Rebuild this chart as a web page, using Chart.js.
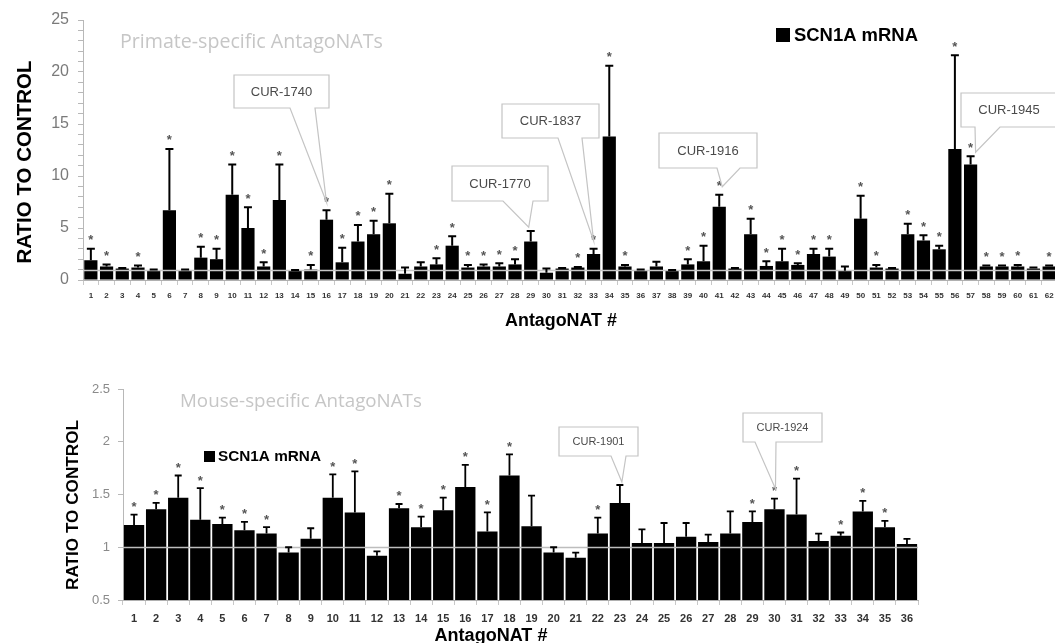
<!DOCTYPE html>
<html><head><meta charset="utf-8">
<script src="https://cdn.jsdelivr.net/npm/chart.js@4"></script>
<style>
html,body{margin:0;padding:0;background:#fff;overflow:hidden;width:1055px;height:643px;}
canvas{position:absolute;left:0;}
#c1{top:0}
#c2{top:335px}
</style></head><body>
<canvas id="c1" width="1057" height="335"></canvas>
<canvas id="c2" width="1055" height="308"></canvas>
<script>
// ---------- DATA: primate-specific ----------
const primateLabels = ['1','2','3','4','5','6','7','8','9','10','11','12','13','14','15','16','17','18','19','20','21','22','23','24','25','26','27','28','29','30','31','32','33','34','35','36','37','38','39','40','41','42','43','44','45','46','47','48','49','50','51','52','53','54','55','56','57','58','59','60','61','62'];
const primateValues = [1.9,1.3,1.1,1.2,0.95,6.7,0.95,2.15,2.0,8.2,5.0,1.3,7.7,0.9,1.0,5.8,1.7,3.7,4.4,5.45,0.6,1.3,1.5,3.3,1.2,1.3,1.3,1.5,3.7,0.7,1.1,1.2,2.5,13.8,1.3,0.95,1.3,0.9,1.5,1.8,7.05,1.1,4.4,1.35,1.8,1.45,2.5,2.25,0.9,5.9,1.2,1.1,4.4,3.8,2.95,12.6,11.1,1.3,1.3,1.3,1.1,1.3];
const primateSD = [1.1,0.2,0.05,0.2,0.05,5.9,0.05,1.05,1.0,2.9,2.0,0.4,3.4,0.05,0.45,0.9,1.4,1.6,1.3,2.85,0.6,0.4,0.6,0.9,0.25,0.2,0.3,0.5,1.0,0.4,0.05,0.05,0.5,6.8,0.15,0.05,0.45,0.05,0.5,1.5,1.15,0.05,1.5,0.45,1.2,0.15,0.5,0.75,0.4,2.2,0.25,0.05,1.0,0.5,0.35,9.0,0.8,0.1,0.1,0.15,0.1,0.1];
const primateStars = [1,1,0,1,0,1,0,1,1,1,1,1,1,0,1,1,1,1,1,1,0,0,1,1,1,1,1,1,0,0,0,1,1,1,1,0,0,0,1,1,1,0,1,1,1,1,1,1,0,1,1,0,1,1,1,1,1,1,1,1,0,1];
const primateYTicks = [0,5,10,15,20,25];

// ---------- DATA: mouse-specific ----------
const mouseLabels = ['1','2','3','4','5','6','7','8','9','10','11','12','13','14','15','16','17','18','19','20','21','22','23','24','25','26','27','28','29','30','31','32','33','34','35','36'];
const mouseValues = [1.21,1.36,1.47,1.26,1.22,1.16,1.13,0.95,1.08,1.47,1.33,0.92,1.37,1.19,1.35,1.57,1.15,1.68,1.20,0.95,0.90,1.13,1.42,1.04,1.04,1.10,1.05,1.13,1.24,1.36,1.31,1.06,1.11,1.34,1.19,1.03];
const mouseSD = [0.10,0.06,0.21,0.30,0.06,0.08,0.06,0.05,0.10,0.22,0.39,0.04,0.04,0.10,0.12,0.21,0.18,0.20,0.29,0.05,0.05,0.15,0.17,0.13,0.19,0.13,0.07,0.21,0.10,0.10,0.34,0.07,0.03,0.10,0.06,0.05];
const mouseStars = [1,1,1,1,1,1,1,0,0,1,1,0,1,1,1,1,1,1,0,0,0,1,0,0,0,0,0,0,1,1,1,0,1,1,1,0];
const mouseYTicks = [0.5,1,1.5,2,2.5];

const seriesName = 'SCN1A mRNA';

// ---------- annotations (page-pixel layout) ----------
const primateCallouts = [
  {text:'CUR-1740', idx:15, box:[234,75,95,33], base:[290,315], dx:0, dy:8},
  {text:'CUR-1770', idx:28, box:[452,166,96,35], base:[503,533], dx:-2, dy:4},
  {text:'CUR-1837', idx:32, box:[502,104,97,34], base:[558,582], dx:0, dy:8},
  {text:'CUR-1916', idx:40, box:[659,133,98,35], base:[717,740], dx:3, dy:8},
  {text:'CUR-1945', idx:56, box:[961,93,96,34], base:[975,1000], dx:5, dy:4}
];
const mouseCallouts = [
  {text:'CUR-1901', idx:22, box:[559,427,79,29], base:[611,626], dx:2, dy:3},
  {text:'CUR-1924', idx:29, box:[743,413,79,29], base:[755,776], dx:1, dy:10}
];

function fitText(ctx, text, x, y, width, weight, family, color, align) {
  ctx.save();
  ctx.font = weight + ' 20px ' + family;
  const w = ctx.measureText(text).width;
  const size = 20 * width / w;
  ctx.font = weight + ' ' + size.toFixed(2) + 'px ' + family;
  ctx.fillStyle = color;
  ctx.textBaseline = 'middle';
  ctx.textAlign = align || 'left';
  ctx.fillText(text, x, y);
  ctx.restore();
}

function makePlugin(o) {
  return {
    id: 'extras',
    afterDatasetsDraw(chart) {
      const ctx = chart.ctx, ys = chart.scales.y, ca = chart.chartArea;
      const meta = chart.getDatasetMeta(0);
      const oy = o.offsetY;
      // reference line at 1
      ctx.save();
      ctx.strokeStyle = o.refColor; ctx.lineWidth = o.refWidth;
      const y1 = Math.round(ys.getPixelForValue(1)) + 0.5;
      ctx.beginPath(); ctx.moveTo(ca.left, y1); ctx.lineTo(ca.right, y1); ctx.stroke();
      // error bars
      ctx.strokeStyle = '#000'; ctx.lineWidth = o.errWidth;
      meta.data.forEach((bar, i) => {
        const yt = ys.getPixelForValue(o.values[i] + o.sd[i]);
        ctx.beginPath();
        ctx.moveTo(bar.x, bar.y); ctx.lineTo(bar.x, yt);
        ctx.moveTo(bar.x - o.cap/2, yt); ctx.lineTo(bar.x + o.cap/2, yt);
        ctx.stroke();
        if (o.stars[i]) {
          ctx.fillStyle = '#555';
          ctx.font = 'bold ' + o.starSize + 'px "Liberation Sans"';
          ctx.textAlign = 'center'; ctx.textBaseline = 'alphabetic';
          ctx.fillText('*', bar.x, yt - o.starGap + o.starSize*0.57);
        }
      });
      // callouts
      o.callouts.forEach(c => {
        const bar = meta.data[c.idx];
        const tx = bar.x + c.dx;
        const ty = ys.getPixelForValue(o.values[c.idx] + o.sd[c.idx]) - c.dy;
        const [bx, byp, bw, bh] = c.box; const by = byp - oy;
        ctx.beginPath();
        ctx.moveTo(bx, by); ctx.lineTo(bx+bw, by); ctx.lineTo(bx+bw, by+bh);
        ctx.lineTo(c.base[1], by+bh); ctx.lineTo(tx, ty); ctx.lineTo(c.base[0], by+bh);
        ctx.lineTo(bx, by+bh); ctx.closePath();
        ctx.fillStyle = '#fff'; ctx.fill();
        ctx.strokeStyle = '#c4c4c4'; ctx.lineWidth = 1.2; ctx.stroke();
        ctx.fillStyle = '#4a4a4a';
        ctx.font = o.calloutFont;
        ctx.textAlign = 'center'; ctx.textBaseline = 'middle';
        ctx.fillText(c.text, bx + bw/2, by + bh/2 + 0.5);
      });
      ctx.restore();
      // texts
      fitText(ctx, o.title, o.titlePos[0], o.titlePos[1]-oy, o.titlePos[2], 'normal', '"Open Sans"', '#c6c6c6');
      const L = o.legend;
      ctx.fillStyle = '#000';
      ctx.fillRect(L.sq[0], L.sq[1]-oy, L.sq[2], L.sq[2]);
      fitText(ctx, seriesName, L.text[0], L.text[1]-oy, L.text[2], 'bold', '"Liberation Sans"', '#000');
      fitText(ctx, 'AntagoNAT #', o.xTitle[0], o.xTitle[1]-oy, o.xTitle[2], 'bold', '"Liberation Sans"', '#000', 'center');
      ctx.save();
      ctx.translate(o.yTitle[0], o.yTitle[1]-oy);
      ctx.rotate(-Math.PI/2);
      fitText(ctx, 'RATIO TO CONTROL', 0, 0, o.yTitle[2], 'bold', '"Liberation Sans"', '#000', 'center');
      ctx.restore();
    }
  };
}

function makeChart(id, labels, values, o, scaleOpts) {
  return new Chart(document.getElementById(id), {
    type: 'bar',
    data: { labels: labels, datasets: [{ label: seriesName, data: values, backgroundColor: '#000', borderWidth: 0,
      barPercentage: o.barPct, categoryPercentage: 1 }] },
    options: {
      responsive: false, animation: false, devicePixelRatio: 1,
      layout: { padding: o.padding },
      plugins: { legend: { display: false }, tooltip: { enabled: false } },
      scales: {
        x: {
          grid: { offset: true, drawOnChartArea: false, drawTicks: true, tickLength: 5, tickColor: '#c8c8c8' },
          border: { color: '#b0b0b0', width: 1 },
          ticks: { autoSkip: false, maxRotation: 0, minRotation: 0, padding: o.xPad,
            font: { family: '"Liberation Sans"', weight: 'bold', size: o.xFont }, color: '#333' },
          afterFit: s => { s.height = o.xHeight; s.paddingLeft = 0; s.paddingRight = 0; }
        },
        y: Object.assign({
          grid: { drawOnChartArea: false, drawTicks: true, tickLength: 5, tickColor: '#b8b8b8' },
          border: { color: '#b8b8b8', width: 1 },
          afterFit: s => { s.width = o.yWidth; }
        }, scaleOpts)
      }
    },
    plugins: [makePlugin(o)]
  });
}

makeChart('c1', primateLabels, primateValues, {
  values: primateValues, sd: primateSD, stars: primateStars, callouts: primateCallouts,
  offsetY: 0, barPct: 0.84, padding: {top: 20, right: 0, left: 0, bottom: 0},
  xHeight: 55, yWidth: 83, xPad: 6, xFont: 8,
  refColor: '#c8c8c8', refWidth: 1.5, errWidth: 2, cap: 8, starSize: 13, starGap: 12,
  calloutFont: '13px "Liberation Sans"',
  title: 'Primate-specific AntagoNATs', titlePos: [120, 42, 263],
  legend: { sq: [776, 28, 14], text: [794, 36, 124] },
  xTitle: [561, 321, 112], yTitle: [25, 162, 203]
}, {
  min: 0, max: 25,
  ticks: { stepSize: 1, autoSkip: false, padding: 9,
    callback: v => (primateYTicks.includes(v) ? String(v) : ''),
    font: { family: '"Liberation Sans"', size: 16 }, color: '#7a7a7a' }
});

makeChart('c2', mouseLabels, mouseValues, {
  values: mouseValues, sd: mouseSD, stars: mouseStars, callouts: mouseCallouts,
  offsetY: 335, barPct: 0.92, padding: {top: 54, right: 137, left: 0, bottom: 0},
  xHeight: 43, yWidth: 123, xPad: 7, xFont: 11,
  refColor: '#bdbdbd', refWidth: 1.5, errWidth: 1.8, cap: 7, starSize: 13, starGap: 11,
  calloutFont: '11px "Liberation Sans"',
  title: 'Mouse-specific AntagoNATs', titlePos: [180, 402, 242],
  legend: { sq: [204, 451, 11], text: [218, 457, 103] },
  xTitle: [491, 636, 113], yTitle: [73, 505, 170]
}, {
  min: 0.5, max: 2.5,
  afterBuildTicks: s => { s.ticks = mouseYTicks.map(v => ({ value: v })); },
  ticks: { autoSkip: false, padding: 8,
    callback: v => String(v),
    font: { family: '"Liberation Sans"', size: 13 }, color: '#8a8a8a' }
});
</script>
</body></html>
